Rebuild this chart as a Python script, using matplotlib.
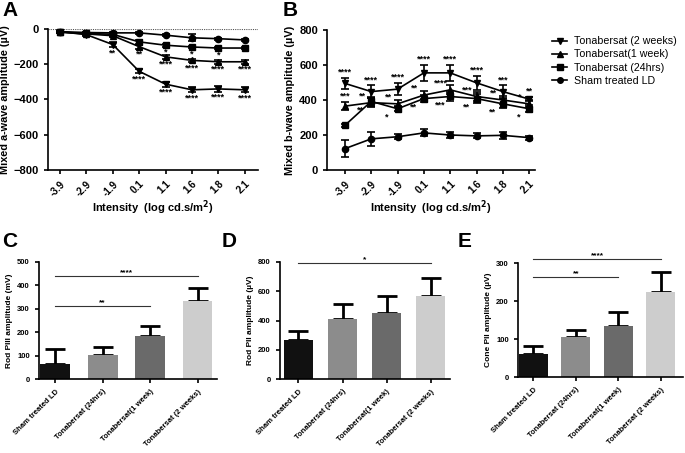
import matplotlib
matplotlib.use("Agg")
import matplotlib.pyplot as plt
from matplotlib.lines import Line2D
import numpy as np

plt.rcParams['font.family'] = ['Liberation Sans', 'DejaVu Sans']

W, H = 685, 453

intensity = ['-3.9', '-2.9', '-1.9', '0.1', '1.1', '1.6', '1.8', '2.1']
series_names = ['Tonabersat (2 weeks)', 'Tonabersat(1 week)', 'Tonabersat (24hrs)', 'Sham treated LD']
markers = ['v', '^', 's', 'o']

# A: mixed a-wave (uV)
a_2wk = [-15, -32, -88, -240, -313, -345, -340, -345]
a_2wk_err = [8, 8, 15, 12, 15, 15, 15, 15]
a_1wk = [-17, -28, -38, -100, -158, -178, -186, -186]
a_1wk_err = [6, 6, 8, 12, 10, 10, 12, 12]
a_24h = [-18, -25, -30, -73, -92, -102, -108, -108]
a_24h_err = [6, 6, 8, 12, 8, 8, 8, 8]
a_sham = [-15, -20, -22, -22, -35, -50, -55, -62]
a_sham_err = [5, 5, 5, 5, 5, 20, 5, 5]
a_2wk_stars = ['', '', '**', '****', '****', '****', '****', '****']
a_1wk_stars = ['', '', '', '**', '****', '****', '****', '****']
a_24h_stars = ['', '', '', '', '*', '*', '*', '']

# B: mixed b-wave (uV)
b_2wk = [495, 448, 462, 555, 555, 498, 448, 405]
b_2wk_err = [30, 35, 35, 45, 45, 40, 35, 12]
b_1wk = [365, 385, 378, 428, 458, 420, 400, 378]
b_1wk_err = [22, 25, 20, 25, 25, 25, 25, 20]
b_24h = [255, 392, 350, 408, 420, 408, 378, 350]
b_24h_err = [8, 25, 15, 20, 25, 25, 25, 20]
b_sham = [122, 178, 190, 212, 200, 195, 198, 185]
b_sham_err = [50, 40, 15, 20, 15, 15, 20, 12]
b_2wk_stars = ['****', '****', '****', '****', '****', '****', '***', '**']
b_1wk_stars = ['***', '**', '**', '**', '****', '***', '**', '*']
b_24h_stars = ['', '**', '*', '**', '***', '**', '**', '*']

# C, D, E bars
groups = ['Sham treated LD', 'Tonabersat (24hrs)', 'Tonabersat(1 week)', 'Tonabersat (2 weeks)']
bar_colors = ['#111111', '#8c8c8c', '#6a6a6a', '#cdcdcd']
c_vals = [66, 104, 182, 332]
c_err = [62, 33, 45, 57]
d_vals = [270, 408, 454, 568]
d_err = [60, 103, 114, 126]
e_vals = [60, 104, 134, 223]
e_err = [21, 20, 38, 53]


def px_axes(fig, left, top, right, bottom):
    return fig.add_axes([left / W, 1 - bottom / H, (right - left) / W, (bottom - top) / H])


def style(ax, tick_size):
    for s in ['top', 'right']:
        ax.spines[s].set_visible(False)
    for s in ['left', 'bottom']:
        ax.spines[s].set_linewidth(1.2)
    ax.tick_params(width=1.2, length=3, labelsize=tick_size)
    for lab in ax.get_yticklabels():
        lab.set_fontweight('bold')


fig = plt.figure(figsize=(W / 100, H / 100), dpi=100)

# ---- panel A
axA = px_axes(fig, 48, 29, 258, 170)
x = np.arange(len(intensity))
a_series = [(a_2wk, a_2wk_err), (a_1wk, a_1wk_err), (a_24h, a_24h_err), (a_sham, a_sham_err)]
for (vals, err), m in zip(a_series, markers):
    axA.errorbar(x, vals, yerr=err, fmt='-', marker=m, color='black', ms=4.5,
                 lw=1.2, elinewidth=1.2, capsize=3, capthick=1.2, clip_on=False)
axA.axhline(0, color='#555555', lw=0.8, ls=(0, (1, 1)))
for stars, (vals, err) in zip([a_2wk_stars, a_1wk_stars, a_24h_stars], a_series[:3]):
    for i, s in enumerate(stars):
        if s:
            axA.text(i, vals[i] - err[i] - 6, s, ha='center', va='top', fontsize=6.5, fontweight='bold')
axA.set_xlim(-0.45, 7.5)
axA.set_ylim(-800, 0)
axA.set_yticks([0, -200, -400, -600, -800])
axA.set_xticks(x)
axA.set_xticklabels(intensity, rotation=45, ha='right', rotation_mode='anchor', fontweight='bold')
style(axA, 8)
axA.tick_params(axis='x', labelsize=7.2)
axA.set_ylabel('Mixed a-wave amplitude (µV)', fontsize=7.8, fontweight='bold', labelpad=3)
axA.set_xlabel('Intensity  (log cd.s/m$^\\mathbf{2}$)', fontsize=8, fontweight='bold', labelpad=0)

# ---- panel B
axB = px_axes(fig, 327, 30, 535, 170)
b_series = [(b_2wk, b_2wk_err), (b_1wk, b_1wk_err), (b_24h, b_24h_err), (b_sham, b_sham_err)]
for (vals, err), m in zip(b_series, markers):
    axB.errorbar(x, vals, yerr=err, fmt='-', marker=m, color='black', ms=4.5,
                 lw=1.2, elinewidth=1.2, capsize=3, capthick=1.2, clip_on=False)
for i, s in enumerate(b_2wk_stars):
    axB.text(i, b_2wk[i] + b_2wk_err[i] + 8, s, ha='center', va='bottom', fontsize=6.5, fontweight='bold')
for i, s in enumerate(b_1wk_stars):
    dx = 0 if i == 0 else -0.35
    dy = b_1wk_err[i] + 8 if i == 0 else 12
    axB.text(i + dx, b_1wk[i] + dy, s, ha='center', va='bottom', fontsize=6.5, fontweight='bold')
for i, s in enumerate(b_24h_stars):
    if s:
        axB.text(i - 0.4, b_24h[i] - 22, s, ha='center', va='top', fontsize=6.5, fontweight='bold')
axB.set_xlim(-0.68, 7.22)
axB.set_ylim(0, 800)
axB.set_yticks([0, 200, 400, 600, 800])
axB.set_xticks(x)
axB.set_xticklabels(intensity, rotation=45, ha='right', rotation_mode='anchor', fontweight='bold')
style(axB, 8)
axB.tick_params(axis='x', labelsize=7.2)
axB.set_ylabel('Mixed b-wave amplitude (µV)', fontsize=7.8, fontweight='bold', labelpad=3)
axB.set_xlabel('Intensity  (log cd.s/m$^\\mathbf{2}$)', fontsize=8, fontweight='bold', labelpad=0)

handles = [Line2D([], [], color='black', lw=1.2, marker=m, ms=4) for m in markers]
fig.legend(handles=handles, labels=series_names, loc='upper left',
           bbox_to_anchor=(548 / W, 1 - 32 / H), frameon=False, fontsize=7.7,
           handlelength=1.4, handletextpad=0.6, labelspacing=0.3, borderaxespad=0)

fig.text(2 / W, 1 - 1 / H, 'A', fontsize=15, fontweight='bold', va='top')
fig.text(283 / W, 1 - 1 / H, 'B', fontsize=15, fontweight='bold', va='top')


# ---- bar panels
def bar_panel(ax, vals, err, ylim, yticks, ylabel, brackets, xlim, width):
    xb = np.arange(len(groups))
    ax.bar(xb, vals, width=width, color=bar_colors, edgecolor='none', zorder=2)
    ax.errorbar(xb, vals, yerr=[np.zeros(len(err)), err], fmt='none', ecolor='black',
                elinewidth=2, capsize=7, capthick=2, zorder=1)
    for i, j, y, s in brackets:
        ax.plot([i, j], [y, y], color='#333333', lw=0.8, clip_on=False)
        ax.text((i + j) / 2, y, s, ha='center', va='bottom', fontsize=6, fontweight='bold')
    ax.set_xlim(*xlim)
    ax.set_ylim(*ylim)
    ax.set_yticks(yticks)
    ax.set_xticks(xb)
    ax.set_xticklabels(groups, rotation=45, ha='right', rotation_mode='anchor', fontweight='bold')
    style(ax, 5.5)
    ax.set_ylabel(ylabel, fontsize=6, fontweight='bold', labelpad=3)


axC = px_axes(fig, 39, 262, 217, 379)
bar_panel(axC, c_vals, c_err, (0, 500), [0, 100, 200, 300, 400, 500], 'Rod PIII amplitude (mV)',
          [(0, 3, 440, '****'), (0, 2, 312, '**')], (-0.34, 3.41), 0.63)
axD = px_axes(fig, 280, 262, 450, 379)
bar_panel(axD, d_vals, d_err, (0, 800), [0, 200, 400, 600, 800], 'Rod PII amplitude (µV)',
          [(0, 3, 793, '*')], (-0.42, 3.44), 0.66)
axE = px_axes(fig, 518, 263, 683, 377)
bar_panel(axE, e_vals, e_err, (0, 300), [0, 100, 200, 300], 'Cone PII amplitude (µV)',
          [(0, 3, 311, '****'), (0, 2, 262, '**')], (-0.36, 3.52), 0.68)

fig.text(2 / W, 1 - 232 / H, 'C', fontsize=15, fontweight='bold', va='top')
fig.text(222 / W, 1 - 232 / H, 'D', fontsize=15, fontweight='bold', va='top')
fig.text(458 / W, 1 - 232 / H, 'E', fontsize=15, fontweight='bold', va='top')

fig.savefig('out.png', dpi=100)
